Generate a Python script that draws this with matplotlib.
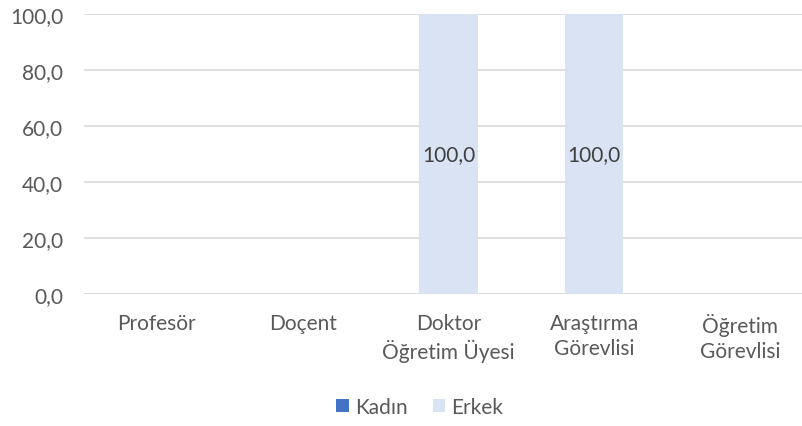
import matplotlib.pyplot as plt
from matplotlib.ticker import FuncFormatter

categories = ["Profesör", "Doçent", "Doktor\nÖğretim Üyesi", "Araştırma\nGörevlisi", "Öğretim\nGörevlisi"]
kadin = [0.0, 0.0, 0.0, 0.0, 0.0]
erkek = [0.0, 0.0, 100.0, 100.0, 0.0]

plt.rcParams["font.family"] = ["Lato", "DejaVu Sans"]
text_color = "#595959"
fs = 15

fig = plt.figure(figsize=(8.03, 4.27), dpi=100)
ax = fig.add_axes([84 / 803, 132 / 427, 729 / 803, 280 / 427])

x = range(len(categories))
ax.bar(x, kadin, width=0.4, color="#4472C4", label="Kadın", zorder=2)
bars = ax.bar(x, erkek, width=0.4, bottom=kadin, color="#DAE3F3", label="Erkek", zorder=2)

for b, v in zip(bars, erkek):
    if v > 0:
        ax.text(b.get_x() + b.get_width() / 2, b.get_y() + v / 2, f"{v:.1f}".replace(".", ","),
                ha="center", va="center", fontsize=fs, color="#404040", zorder=3)

ax.set_xlim(-0.5, 4.5)
ax.set_ylim(0, 100)
ax.set_yticks(range(0, 101, 20))
ax.yaxis.set_major_formatter(FuncFormatter(lambda v, p: f"{v:.1f}".replace(".", ",")))
ax.set_xticks(list(x))
ax.set_xticklabels(categories, linespacing=1.3)
ax.tick_params(axis="both", length=0, colors=text_color, labelsize=fs)
ax.tick_params(axis="y", pad=15)
ax.tick_params(axis="x", pad=14)
ax.yaxis.grid(True, color="#D9D9D9", linewidth=1.2, zorder=0)
for s in ax.spines.values():
    s.set_visible(False)
ax.axhline(0, color="#D9D9D9", linewidth=1.2, zorder=1)

fig.legend(loc="center", bbox_to_anchor=(420 / 803, 1 - 408 / 427), ncol=2, frameon=False,
           fontsize=fs, labelcolor=text_color, handlelength=0.6, handleheight=0.6,
           handletextpad=0.3, columnspacing=1.2)

fig.savefig("out.png", dpi=100)
